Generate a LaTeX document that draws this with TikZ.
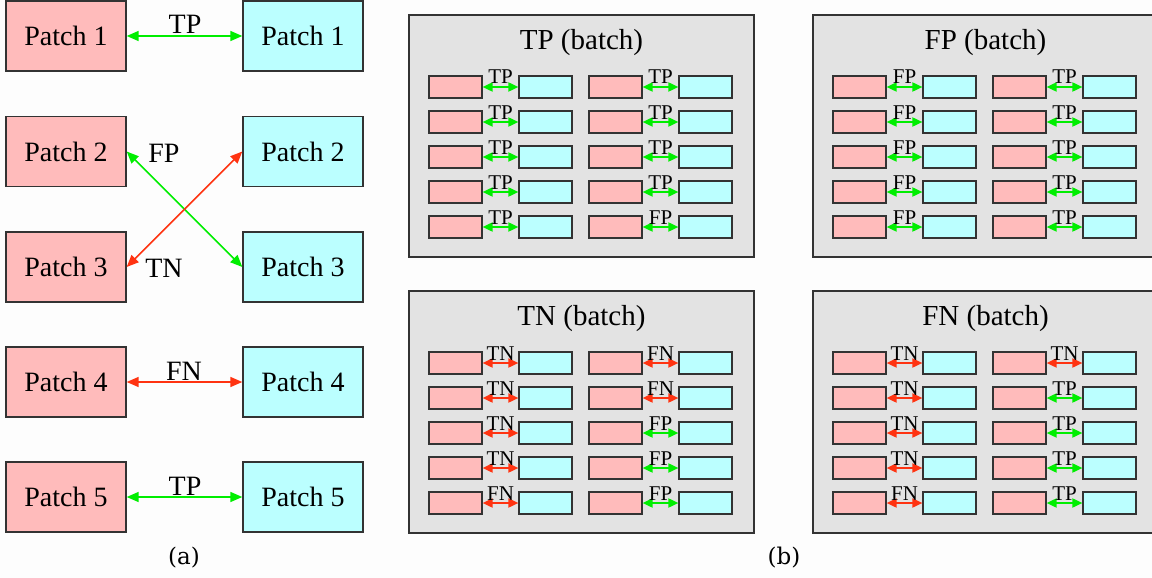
\documentclass[tikz,border=0pt]{standalone}
\usepackage{fontspec}
\setmainfont{Liberation Serif}
\newfontfamily\capfont{DejaVu Serif}
\usetikzlibrary{arrows.meta}

\definecolor{pinkfill}{HTML}{FFBBBB}
\definecolor{cyanfill}{HTML}{BBFFFF}
\definecolor{okgreen}{HTML}{00EE00}
\definecolor{badred}{HTML}{FF3311}
\definecolor{panelfill}{HTML}{E3E3E3}
\definecolor{edgegray}{HTML}{333333}
\definecolor{paper}{HTML}{FDFDFD}

\tikzset{
  bigbox/.style={draw=edgegray, line width=1.4pt, minimum width=120pt,
    minimum height=70pt, inner sep=0pt, font=\fontsize{28}{30}\selectfont},
  bigpink/.style={bigbox, fill=pinkfill},
  bigcyan/.style={bigbox, fill=cyanfill},
  smallbox/.style={draw=edgegray, line width=1.2pt, minimum width=53pt,
    minimum height=22pt, inner sep=0pt},
  smallpink/.style={smallbox, fill=pinkfill},
  smallcyan/.style={smallbox, fill=cyanfill},
  bigarrow/.style={line width=1.6pt, {Triangle[length=12pt,width=10pt]}-{Triangle[length=12pt,width=10pt]}},
  smallarrow/.style={line width=1.8pt, {Triangle[length=10pt,width=9pt]}-{Triangle[length=10pt,width=9pt]}},
  greenlink/.style={draw=okgreen, fill=okgreen},
  redlink/.style={draw=badred, fill=badred},
  biglabel/.style={font=\fontsize{28}{30}\selectfont, inner sep=0pt},
  smalllabel/.style={font=\fontsize{21}{22}\selectfont, inner sep=0pt, fill=none},
  panel/.style={draw=edgegray, line width=1.4pt, fill=panelfill,
    minimum width=345pt, minimum height=242pt, inner sep=0pt},
  paneltitle/.style={font=\fontsize{29}{32}\selectfont, inner sep=0pt},
  caption/.style={font=\capfont\fontsize{23}{26}\selectfont, inner sep=0pt}
}

\begin{document}
\begin{tikzpicture}[x=1pt, y=-1pt]
  \useasboundingbox (0,0) rectangle (1152,578);
  \fill[paper] (0,0) rectangle (1152,578);

  % (a) patch pairs
  \foreach \k/\yy in {1/36, 2/151.5, 3/267, 4/382, 5/497} {
    \node[bigpink] (L\k) at (66,\yy) {Patch \k};
    \node[bigcyan] (R\k) at (303,\yy) {Patch \k};
  }
  \draw[bigarrow, greenlink] (L1) -- (R1);
  \node[biglabel] (lab1) at (185,24) {TP};
  \draw[bigarrow, greenlink] (L2.east) -- (R3.west);
  \draw[bigarrow, redlink] (L3.east) -- (R2.west);
  \node[biglabel] (lab2) at (164,153) {FP};
  \node[biglabel] (lab3) at (164,268) {TN};
  \draw[bigarrow, redlink] (L4) -- (R4);
  \node[biglabel] (lab4) at (184,371) {FN};
  \draw[bigarrow, greenlink] (L5) -- (R5);
  \node[biglabel] (lab5) at (185,486) {TP};

  % (b) batches: first five pairs are the left column, last five the right
  \foreach \pn/\ox/\oy/\ttl/\labs in {
      tp/0/0/TP/{TP/greenlink,TP/greenlink,TP/greenlink,TP/greenlink,TP/greenlink,TP/greenlink,TP/greenlink,TP/greenlink,TP/greenlink,FP/greenlink},
      fp/404/0/FP/{FP/greenlink,FP/greenlink,FP/greenlink,FP/greenlink,FP/greenlink,TP/greenlink,TP/greenlink,TP/greenlink,TP/greenlink,TP/greenlink},
      tn/0/276/TN/{TN/redlink,TN/redlink,TN/redlink,TN/redlink,FN/redlink,FN/redlink,FN/redlink,FP/greenlink,FP/greenlink,FP/greenlink},
      fn/404/276/FN/{TN/redlink,TN/redlink,TN/redlink,TN/redlink,FN/redlink,TN/redlink,TP/greenlink,TP/greenlink,TP/greenlink,TP/greenlink}} {
    \node[panel] (\pn-panel) at (\ox+581.5,\oy+136) {};
    \node[paneltitle] (\pn-title) at (\ox+581.5,\oy+43) {\ttl\ (batch)};
    \foreach \lab/\col [count=\i from 0] in \labs {
      \pgfmathtruncatemacro{\c}{int(\i/5)}
      \pgfmathtruncatemacro{\r}{mod(\i,5)}
      \node[smallpink] (\pn-\i-a) at (\ox+455.5+160*\c,\oy+87+35*\r) {};
      \node[smallcyan] (\pn-\i-b) at (\ox+545.5+160*\c,\oy+87+35*\r) {};
      \draw[smallarrow,\col] (\pn-\i-a) -- (\pn-\i-b)
        node[midway, smalllabel, anchor=base, yshift=3pt, text=black] {\lab};
    }
  }

  % captions
  \node[caption] (capa) at (184,558) {(a)};
  \node[caption] (capb) at (784,558) {(b)};
\end{tikzpicture}
\end{document}
